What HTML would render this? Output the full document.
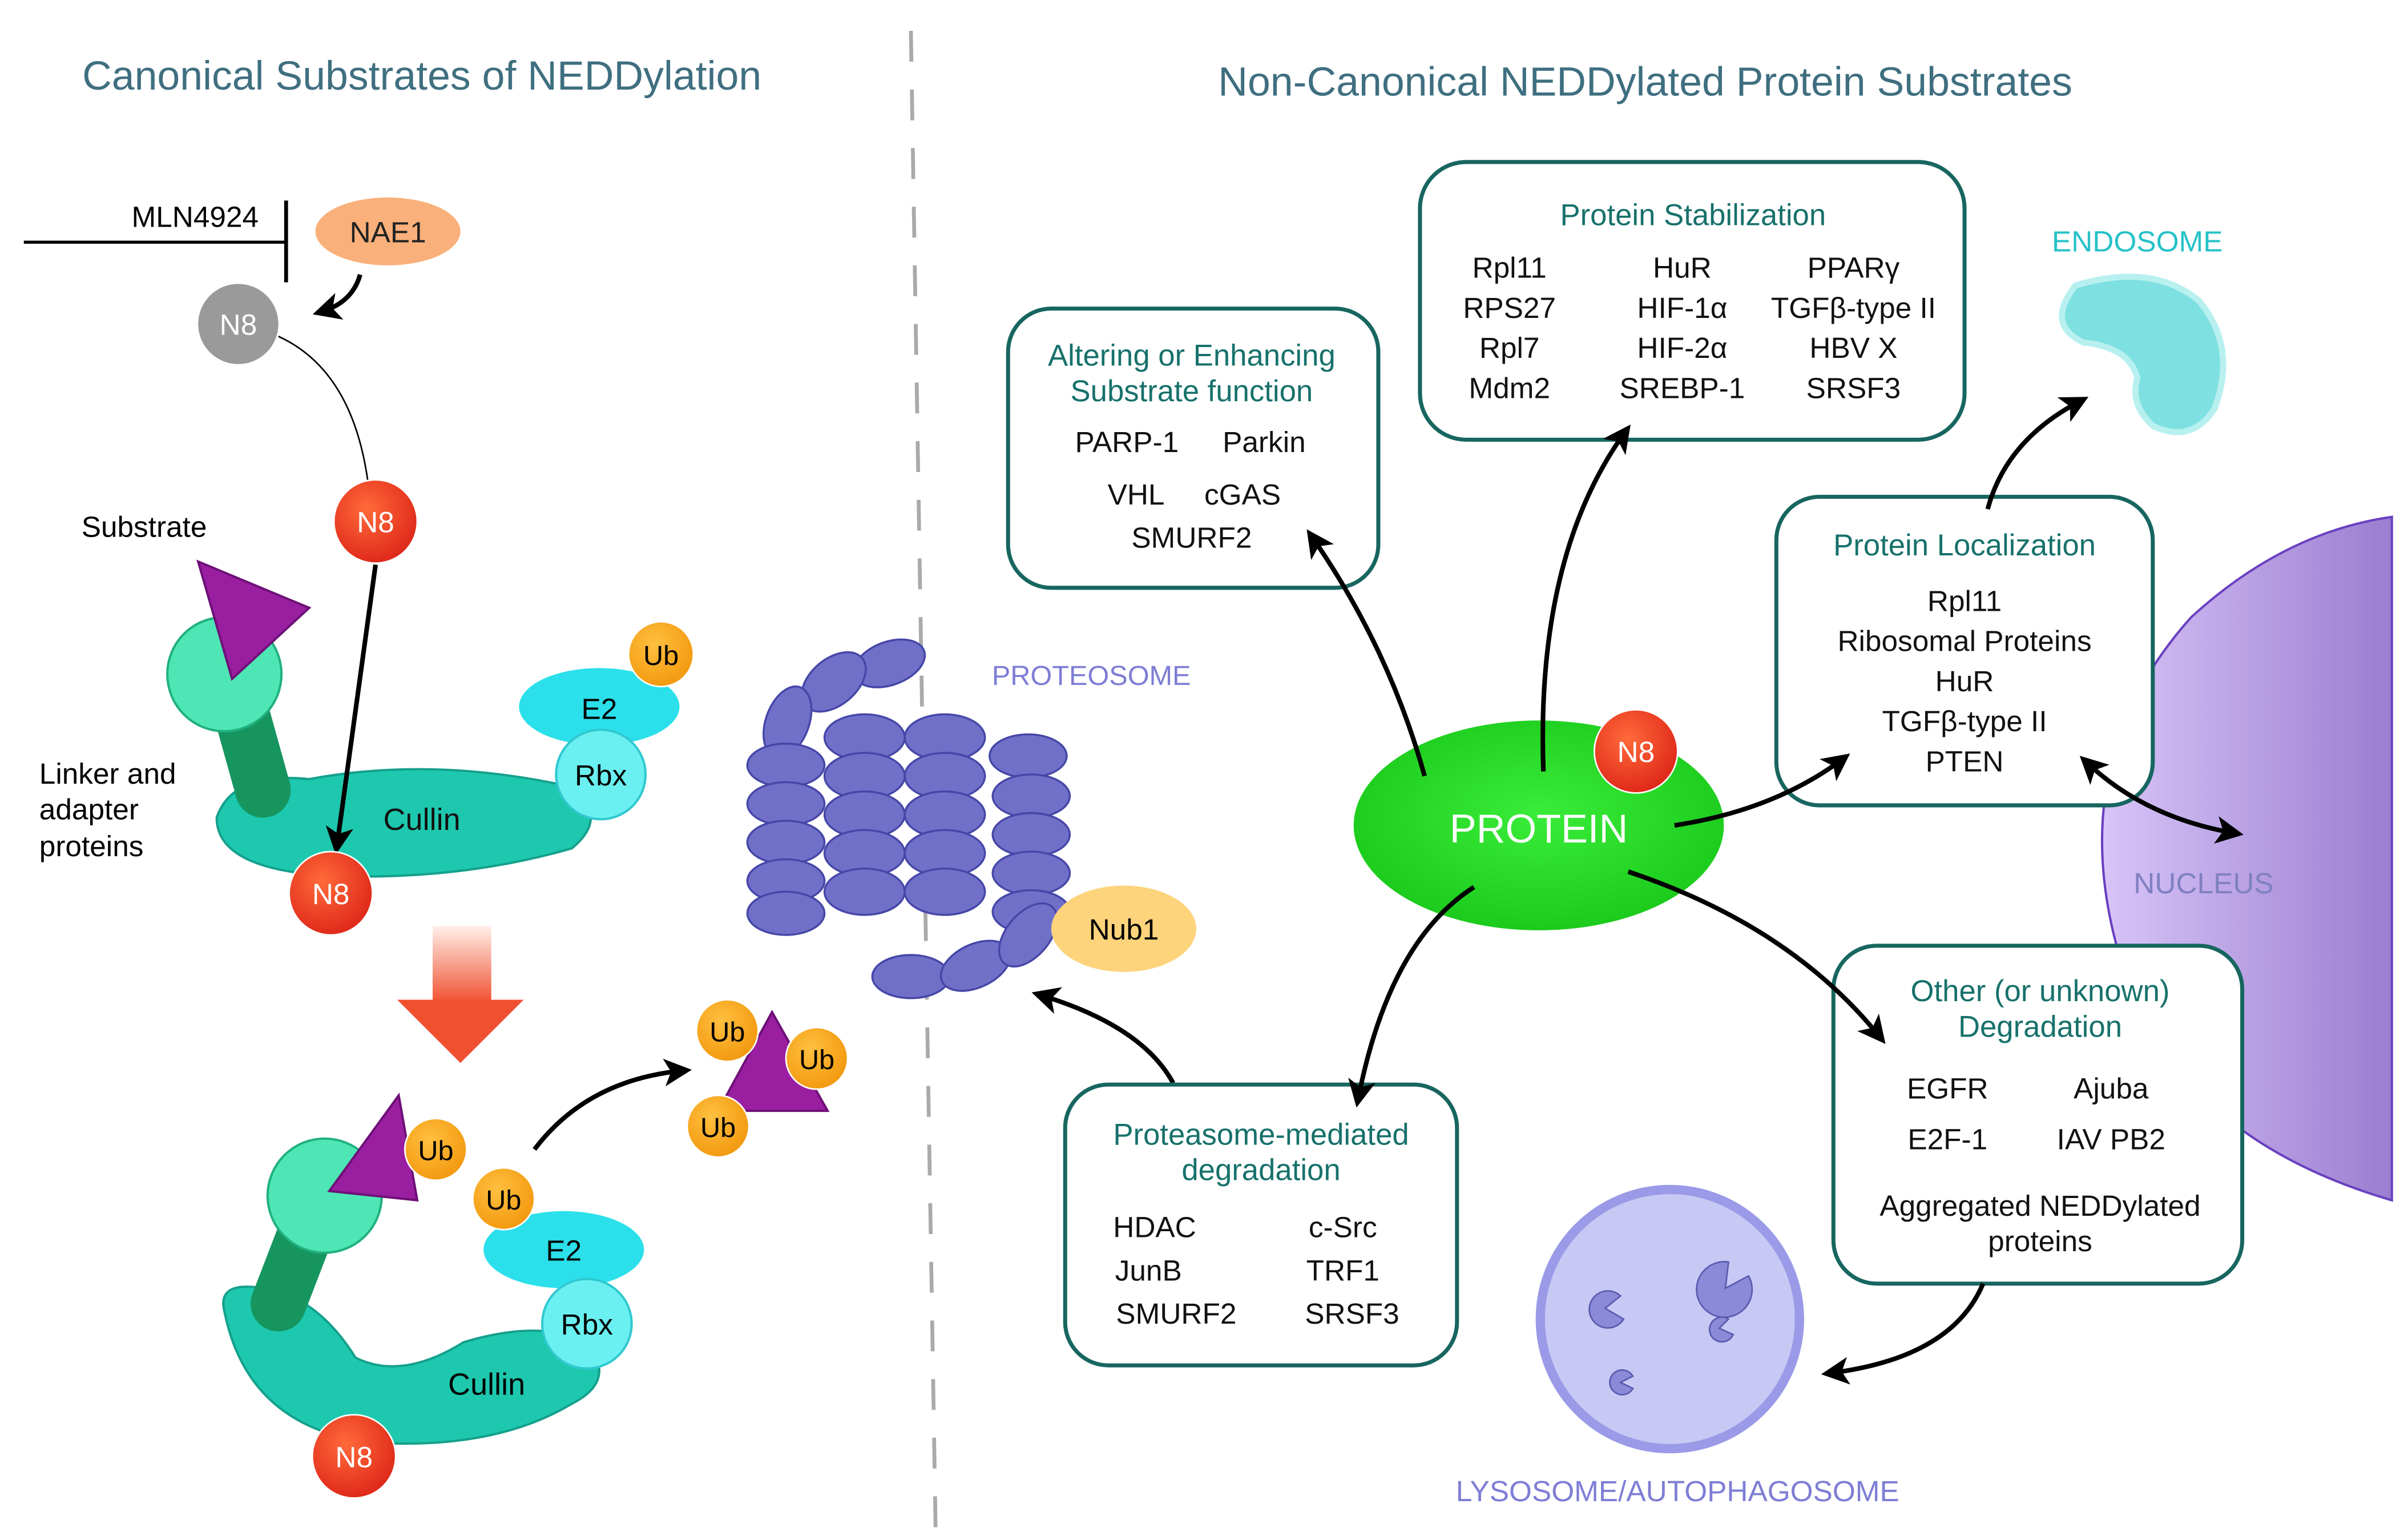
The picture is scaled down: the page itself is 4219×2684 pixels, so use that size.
<!DOCTYPE html>
<html><head><meta charset="utf-8"><style>
html,body{margin:0;padding:0;background:#fff}
svg{display:block}
text{font-family:"Liberation Sans",sans-serif}
.t{fill:#111;font-size:19px;text-anchor:middle}
.h{fill:#17716b;font-size:19.5px;text-anchor:middle}
.box{fill:#fff;stroke:#17665f;stroke-width:2.6}
.ar{fill:none;stroke:#000;stroke-width:3}
.wt{fill:#fff;font-size:19px;text-anchor:middle}
.pe{fill:#7070c8;stroke:#4646a8;stroke-width:1.3}
</style></head><body>
<svg width="4219" height="2684" viewBox="0 0 1560 993" xmlns="http://www.w3.org/2000/svg">
<defs>
<marker id="m" markerWidth="6" markerHeight="6" refX="4" refY="3" orient="auto" markerUnits="strokeWidth"><path d="M0,0 L6,3 L0,6 L1.5,3z" fill="#000"/></marker>
<marker id="ms" markerWidth="6" markerHeight="6" refX="2" refY="3" orient="auto" markerUnits="strokeWidth"><path d="M6,0 L0,3 L6,6 L4.5,3z" fill="#000"/></marker>
<radialGradient id="red" cx="40%" cy="35%" r="65%"><stop offset="0" stop-color="#ff6a3a"/><stop offset="1" stop-color="#e02a1a"/></radialGradient>
<radialGradient id="ub" cx="40%" cy="35%" r="65%"><stop offset="0" stop-color="#ffc040"/><stop offset="1" stop-color="#f39a10"/></radialGradient>
<linearGradient id="dn" x1="0" y1="0" x2="0" y2="1"><stop offset="0" stop-color="#fff0ea"/><stop offset="1" stop-color="#f05030"/></linearGradient>
<linearGradient id="nuc" x1="0" y1="0" x2="1" y2="0"><stop offset="0" stop-color="#d8c4f8"/><stop offset="1" stop-color="#9a7ed0"/></linearGradient>
<radialGradient id="prot" cx="50%" cy="45%" r="60%"><stop offset="0" stop-color="#3aec3a"/><stop offset="1" stop-color="#19c819"/></radialGradient>
</defs>

<text x="273" y="58" font-size="26.5" fill="#3f6f80" text-anchor="middle">Canonical Substrates of NEDDylation</text>
<text x="1066" y="62" font-size="26.5" fill="#3f6f80" text-anchor="middle">Non-Canonical NEDDylated Protein Substrates</text>
<line x1="590" y1="20" x2="606" y2="990" stroke="#aaa" stroke-width="2.5" stroke-dasharray="20,18"/>

<!-- left top -->
<line x1="15" y1="157" x2="185" y2="157" stroke="#000" stroke-width="2"/>
<line x1="185" y1="130" x2="185" y2="183" stroke="#000" stroke-width="2.5"/>
<text x="126" y="147" font-size="19" text-anchor="middle">MLN4924</text>
<ellipse cx="251" cy="150" rx="47" ry="22" fill="#f9b07a"/>
<text x="251" y="157" font-size="19" text-anchor="middle" fill="#222">NAE1</text>
<path d="M233,178 Q228,196 208,202" class="ar" stroke-width="2" marker-end="url(#m)"/>
<circle cx="154" cy="210" r="26" fill="#9a9a9a"/>
<text x="154" y="217" class="wt">N8</text>
<path d="M180,218 Q228,240 238,312" fill="none" stroke="#000" stroke-width="1"/>
<circle cx="243" cy="338" r="27" fill="url(#red)" stroke="#fff" stroke-width="1"/>
<text x="243" y="345" class="wt">N8</text>
<text x="93" y="348" font-size="19" text-anchor="middle">Substrate</text>
<text x="25" y="508" font-size="19">Linker and</text>
<text x="25" y="531" font-size="19">adapter</text>
<text x="25" y="555" font-size="19">proteins</text>
<path d="M140,530 Q150,500 200,505 Q280,490 370,510 Q395,530 370,550 Q300,570 220,568 Q140,565 140,530z" fill="#1ec8ae" stroke="#14a08c" stroke-width="1.5"/>
<line x1="150" y1="440" x2="170" y2="512" stroke="#16955f" stroke-width="36" stroke-linecap="round"/>
<circle cx="145" cy="437" r="37" fill="#4ee6b4" stroke="#20b080" stroke-width="1.5"/>
<polygon points="128,364 200,394 150,440" fill="#9a1fa0" stroke="#6e1078" stroke-width="1.5"/>
<text x="273" y="538" font-size="20" text-anchor="middle" fill="#111">Cullin</text>
<ellipse cx="388" cy="458" rx="52" ry="25" fill="#2be0ea"/>
<text x="388" y="466" font-size="19" text-anchor="middle">E2</text>
<circle cx="428" cy="424" r="21" fill="url(#ub)" stroke="#fff" stroke-width="1"/>
<text x="428" y="431" font-size="18" text-anchor="middle">Ub</text>
<circle cx="389" cy="502" r="29" fill="#6af0f0" stroke="#30c8d0" stroke-width="1.5"/>
<text x="389" y="509" font-size="19" text-anchor="middle">Rbx</text>
<path d="M243,366 L218,548" class="ar" stroke-width="3.2" marker-end="url(#m)"/>
<circle cx="214" cy="579" r="27" fill="url(#red)" stroke="#fff" stroke-width="1"/>
<text x="214" y="586" class="wt">N8</text>

<rect x="280" y="600" width="38" height="50" fill="url(#dn)"/>
<polygon points="257,648 339,648 298,689" fill="#f05030"/>

<!-- bottom complex -->
<path d="M145,850 Q140,830 170,835 Q205,840 230,880 Q260,895 300,870 Q350,855 380,870 Q400,895 370,910 Q320,940 240,935 Q160,925 145,850z" fill="#1ec8ae" stroke="#14a08c" stroke-width="1.5"/>
<line x1="205" y1="780" x2="180" y2="845" stroke="#16955f" stroke-width="36" stroke-linecap="round"/>
<circle cx="210" cy="775" r="37" fill="#4ee6b4" stroke="#20b080" stroke-width="1.5"/>
<polygon points="213,772 258,710 270,778" fill="#9a1fa0" stroke="#6e1078" stroke-width="1.5"/>
<circle cx="282" cy="745" r="20" fill="url(#ub)" stroke="#fff"/>
<text x="282" y="752" font-size="18" text-anchor="middle">Ub</text>
<ellipse cx="365" cy="810" rx="52" ry="25" fill="#2be0ea"/>
<text x="365" y="817" font-size="19" text-anchor="middle">E2</text>
<circle cx="326" cy="777" r="20" fill="url(#ub)" stroke="#fff"/>
<text x="326" y="784" font-size="18" text-anchor="middle">Ub</text>
<circle cx="380" cy="858" r="29" fill="#6af0f0" stroke="#30c8d0" stroke-width="1.5"/>
<text x="380" y="865" font-size="19" text-anchor="middle">Rbx</text>
<text x="315" y="904" font-size="20" text-anchor="middle">Cullin</text>
<circle cx="229" cy="944" r="27" fill="url(#red)" stroke="#fff"/>
<text x="229" y="951" class="wt">N8</text>
<path d="M346,745 Q380,700 442,694" class="ar" stroke-width="2.5" marker-end="url(#m)"/>
<polygon points="465,720 500,656 536,720" fill="#9a1fa0" stroke="#6e1078" stroke-width="1.5"/>
<circle cx="471" cy="668" r="20" fill="url(#ub)" stroke="#fff"/><text x="471" y="675" font-size="18" text-anchor="middle">Ub</text>
<circle cx="529" cy="686" r="20" fill="url(#ub)" stroke="#fff"/><text x="529" y="693" font-size="18" text-anchor="middle">Ub</text>
<circle cx="465" cy="730" r="20" fill="url(#ub)" stroke="#fff"/><text x="465" y="737" font-size="18" text-anchor="middle">Ub</text>

<!-- proteasome -->
<g>
<ellipse class="pe" cx="576" cy="430" rx="24" ry="14" transform="rotate(-20 576 430)"/>
<ellipse class="pe" cx="540" cy="442" rx="24" ry="15" transform="rotate(-40 540 442)"/>
<ellipse class="pe" cx="510" cy="468" rx="14" ry="24" transform="rotate(20 510 468)"/>
<ellipse class="pe" cx="509" cy="496" rx="25" ry="14"/>
<ellipse class="pe" cx="509" cy="521" rx="25" ry="14"/>
<ellipse class="pe" cx="509" cy="546" rx="25" ry="14"/>
<ellipse class="pe" cx="509" cy="571" rx="25" ry="14"/>
<ellipse class="pe" cx="509" cy="592" rx="25" ry="14"/>
<ellipse class="pe" cx="560" cy="478" rx="26" ry="15"/>
<ellipse class="pe" cx="560" cy="503" rx="26" ry="15" fill="#5a5ab8"/>
<ellipse class="pe" cx="560" cy="528" rx="26" ry="15"/>
<ellipse class="pe" cx="560" cy="553" rx="26" ry="15"/>
<ellipse class="pe" cx="560" cy="578" rx="26" ry="15"/>
<ellipse class="pe" cx="612" cy="478" rx="26" ry="15"/>
<ellipse class="pe" cx="612" cy="503" rx="26" ry="15" fill="#5a5ab8"/>
<ellipse class="pe" cx="612" cy="528" rx="26" ry="15"/>
<ellipse class="pe" cx="612" cy="553" rx="26" ry="15"/>
<ellipse class="pe" cx="612" cy="578" rx="26" ry="15"/>
<ellipse class="pe" cx="666" cy="490" rx="25" ry="14"/>
<ellipse class="pe" cx="668" cy="516" rx="25" ry="14"/>
<ellipse class="pe" cx="668" cy="541" rx="25" ry="14"/>
<ellipse class="pe" cx="668" cy="566" rx="25" ry="14"/>
<ellipse class="pe" cx="668" cy="591" rx="25" ry="14"/>
<ellipse class="pe" cx="590" cy="633" rx="25" ry="14"/>
<ellipse class="pe" cx="632" cy="626" rx="24" ry="14" transform="rotate(-25 632 626)"/>
<ellipse class="pe" cx="666" cy="606" rx="14" ry="24" transform="rotate(40 666 606)"/>
</g>
<ellipse cx="728" cy="602" rx="47" ry="28" fill="#fdd47c"/>
<text x="728" y="609" font-size="19" text-anchor="middle">Nub1</text>
<text x="707" y="444" font-size="18" fill="#7e7ed6" text-anchor="middle">PROTEOSOME</text>
<path d="M760,702 Q740,665 674,645" class="ar" marker-end="url(#m)"/>

<!-- nucleus -->
<path d="M1550,335 L1550,778 Q1420,740 1380,640 Q1330,500 1420,400 Q1480,345 1550,335z" fill="url(#nuc)" stroke="#6a40c0" stroke-width="1.5"/>
<text x="1428" y="579" font-size="19" fill="#8080c0" text-anchor="middle">NUCLEUS</text>

<!-- endosome -->
<text x="1385" y="163" font-size="19" fill="#26c2c8" text-anchor="middle">ENDOSOME</text>
<path d="M1345,185 Q1395,170 1425,195 Q1450,225 1435,265 Q1420,288 1395,276 Q1380,262 1385,245 Q1380,225 1350,222 Q1325,210 1345,185z" fill="#7ee0e0" stroke="#b8f0f0" stroke-width="4"/>

<!-- lysosome -->
<circle cx="1082" cy="855" r="84" fill="#c8c8f4" stroke="#9a9ae8" stroke-width="6"/>
<path d="M1120,818 A18,18 0 1 0 1133,827 L1118,835z" fill="#8a8ad8" stroke="#5a5ab0"/>
<path d="M1050,840 A12,12 0 1 0 1052,855 L1040,848z" fill="#8a8ad8" stroke="#5a5ab0"/>
<path d="M1120,855 A8,8 0 1 0 1123,865 L1114,861z" fill="#8a8ad8" stroke="#5a5ab0"/>
<path d="M1058,892 A8,8 0 1 0 1058,900 L1050,896z" fill="#8a8ad8" stroke="#5a5ab0"/>
<text x="1087" y="973" font-size="19" fill="#7e7ed6" text-anchor="middle">LYSOSOME/AUTOPHAGOSOME</text>

<!-- protein -->
<ellipse cx="997" cy="535" rx="120" ry="68" fill="url(#prot)"/>
<text x="997" y="546" font-size="26" fill="#fff" text-anchor="middle">PROTEIN</text>
<circle cx="1060" cy="487" r="27" fill="url(#red)" stroke="#fff"/>
<text x="1060" y="494" class="wt">N8</text>

<!-- boxes -->
<rect class="box" x="653" y="200" width="240" height="181" rx="28"/>
<text class="h" x="772" y="237">Altering or Enhancing</text>
<text class="h" x="772" y="260">Substrate function</text>
<text class="t" x="730" y="293">PARP-1</text><text class="t" x="819" y="293">Parkin</text>
<text class="t" x="736" y="327">VHL</text><text class="t" x="805" y="327">cGAS</text>
<text class="t" x="772" y="355">SMURF2</text>

<rect class="box" x="920" y="105" width="353" height="180" rx="30"/>
<text class="h" x="1097" y="146">Protein Stabilization</text>
<text class="t" x="978" y="180">Rpl11</text><text class="t" x="1090" y="180">HuR</text><text class="t" x="1201" y="180">PPARγ</text>
<text class="t" x="978" y="206">RPS27</text><text class="t" x="1090" y="206">HIF-1α</text><text class="t" x="1201" y="206">TGFβ-type II</text>
<text class="t" x="978" y="232">Rpl7</text><text class="t" x="1090" y="232">HIF-2α</text><text class="t" x="1201" y="232">HBV X</text>
<text class="t" x="978" y="258">Mdm2</text><text class="t" x="1090" y="258">SREBP-1</text><text class="t" x="1201" y="258">SRSF3</text>

<rect class="box" x="1151" y="322" width="244" height="200" rx="28"/>
<text class="h" x="1273" y="360">Protein Localization</text>
<text class="t" x="1273" y="396">Rpl11</text>
<text class="t" x="1273" y="422">Ribosomal Proteins</text>
<text class="t" x="1273" y="448">HuR</text>
<text class="t" x="1273" y="474">TGFβ-type II</text>
<text class="t" x="1273" y="500">PTEN</text>

<rect class="box" x="1188" y="613" width="265" height="219" rx="28"/>
<text class="h" x="1322" y="649">Other (or unknown)</text>
<text class="h" x="1322" y="672">Degradation</text>
<text class="t" x="1262" y="712">EGFR</text><text class="t" x="1368" y="712">Ajuba</text>
<text class="t" x="1262" y="745">E2F-1</text><text class="t" x="1368" y="745">IAV PB2</text>
<text class="t" x="1322" y="788">Aggregated NEDDylated</text>
<text class="t" x="1322" y="811">proteins</text>

<rect class="box" x="690" y="703" width="254" height="182" rx="28"/>
<text class="h" x="817" y="742">Proteasome-mediated</text>
<text class="h" x="817" y="765">degradation</text>
<text class="t" x="748" y="802">HDAC</text><text class="t" x="870" y="802">c-Src</text>
<text class="t" x="744" y="830">JunB</text><text class="t" x="870" y="830">TRF1</text>
<text class="t" x="762" y="858">SMURF2</text><text class="t" x="876" y="858">SRSF3</text>

<!-- arrows -->
<path d="M923,503 Q900,420 850,348" class="ar" marker-end="url(#m)"/>
<path d="M1000,500 Q995,360 1053,280" class="ar" marker-end="url(#m)"/>
<path d="M1085,535 Q1150,525 1194,492" class="ar" marker-end="url(#m)"/>
<path d="M1055,565 Q1160,600 1218,672" class="ar" marker-end="url(#m)"/>
<path d="M955,575 Q900,610 880,712" class="ar" marker-end="url(#m)"/>
<path d="M1288,330 Q1300,285 1348,260" class="ar" stroke-width="2.5" marker-end="url(#m)"/>
<path d="M1352,494 Q1390,530 1448,540" class="ar" marker-start="url(#ms)" marker-end="url(#m)"/>
<path d="M1285,832 Q1265,880 1186,890" class="ar" marker-end="url(#m)"/>
</svg>
</body></html>
